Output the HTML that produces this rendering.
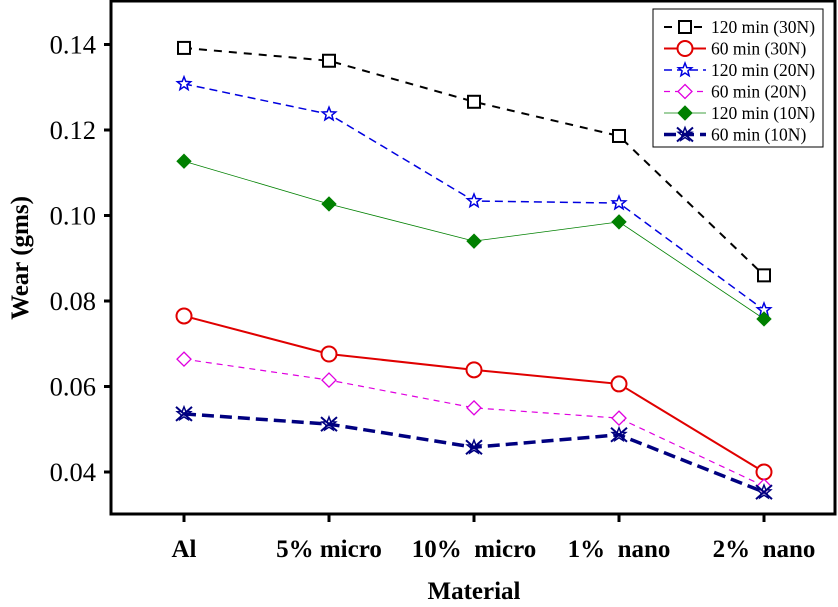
<!DOCTYPE html>
<html><head><meta charset="utf-8"><style>body{margin:0;background:#fff}svg{display:block;font-family:"Liberation Serif",serif}</style></head>
<body>
<svg id="c" width="838" height="607" viewBox="0 0 838 607"></svg>
<script>
const categories=["Al","5% micro","10%  micro","1%  nano","2%  nano"];
const yTicks=[0.04,0.06,0.08,0.10,0.12,0.14];
const yTickLabels=["0.04","0.06","0.08","0.10","0.12","0.14"];
const s120_30=[0.1392,0.1362,0.1266,0.1186,0.0860];
const s60_30=[0.0765,0.0676,0.0639,0.0606,0.0400];
const s120_20=[0.1308,0.1237,0.1034,0.1029,0.0779];
const s60_20=[0.0664,0.0615,0.0550,0.0526,0.0367];
const s120_10=[0.1127,0.1027,0.0940,0.0985,0.0758];
const s60_10=[0.0536,0.0512,0.0458,0.0487,0.0353];
const seriesNames=["120 min (30N)","60 min (30N)","120 min (20N)","60 min (20N)","120 min (10N)","60 min (10N)"];

const NS="http://www.w3.org/2000/svg",svg=document.getElementById('c');
const L=111,R=835,T=1,B=514;
const xs=i=>184+i*145;
const ys=v=>472-(v-0.04)/0.02*85.5;
function el(t,a,p){const e=document.createElementNS(NS,t);for(const k in a)e.setAttribute(k,a[k]);(p||svg).appendChild(e);return e;}
const frame=el('rect',{x:L,y:T,width:R-L,height:B-T,fill:'none',stroke:'#000','stroke-width':3});

yTicks.forEach((v,i)=>{
 const tk=el('line',{x1:L-7,x2:L,y1:ys(v),y2:ys(v),stroke:'#000','stroke-width':3});
 
 const t=el('text',{x:L-15,y:ys(v)+9,'text-anchor':'end','font-size':26.5});t.textContent=yTickLabels[i];
 
});
categories.forEach((c,i)=>{
 const tk=el('line',{x1:xs(i),x2:xs(i),y1:B,y2:B+8,stroke:'#000','stroke-width':3});
 
 const t=el('text',{x:xs(i),y:557,'text-anchor':'middle','font-size':25,'font-weight':'bold'});t.textContent=c;
 t.style.whiteSpace='pre';
 
});
const xt=el('text',{x:474,y:599,'text-anchor':'middle','font-size':25,'font-weight':'bold'});xt.textContent="Material";

const yt=el('text',{x:0,y:0,'text-anchor':'middle','font-size':25,'font-weight':'bold',transform:'translate(28,258) rotate(-90)'});yt.textContent="Wear (gms)";


function marker(type,x,y,color,g){
 if(type==='sq')return el('rect',{x:x-6,y:y-6,width:12,height:12,fill:'#fff',stroke:color,'stroke-width':2},g);
 if(type==='ci')return el('circle',{cx:x,cy:y,r:7.5,fill:'#fff',stroke:color,'stroke-width':2},g);
 if(type==='st'){let p=[];for(let k=0;k<10;k++){const r=k%2?3:7,a=-Math.PI/2+k*Math.PI/5;p.push((x+r*Math.cos(a)).toFixed(1)+','+(y+r*Math.sin(a)).toFixed(1));}return el('polygon',{points:p.join(' '),fill:'#fff',stroke:color,'stroke-width':1.5},g);}
 if(type==='di')return el('polygon',{points:`${x},${y-7} ${x+7},${y} ${x},${y+7} ${x-7},${y}`,fill:'#fff',stroke:color,'stroke-width':1.3},g);
 if(type==='fd')return el('polygon',{points:`${x},${y-7} ${x+7},${y} ${x},${y+7} ${x-7},${y}`,fill:color,stroke:color,'stroke-width':1},g);
 if(type==='xs'){const g2=el('g',{},g);el('path',{d:`M${x-8},${y+7} L${x+8},${y-7} M${x-8},${y-7} L${x+8},${y+7}`,stroke:color,'stroke-width':2,fill:'none'},g2);let p=[];for(let k=0;k<10;k++){const r=k%2?3:7,a=-Math.PI/2+k*Math.PI/5;p.push((x+r*Math.cos(a)).toFixed(1)+','+(y+r*Math.sin(a)).toFixed(1));}el('polygon',{points:p.join(' '),fill:'none',stroke:color,'stroke-width':1.5},g2);return g2;}
}
const styles=[
 {d:s120_30,c:'#000',w:2,da:'8,7',m:'sq'},
 {d:s60_30,c:'#e00000',w:2,da:'',m:'ci'},
 {d:s120_20,c:'#0000e0',w:1.5,da:'8,5',m:'st'},
 {d:s60_20,c:'#e000e0',w:1.2,da:'6,5',m:'di'},
 {d:s120_10,c:'#008000',w:0.8,da:'',m:'fd'},
 {d:s60_10,c:'#000080',w:3.5,da:'12,6',m:'xs'}
];
styles.forEach((s,si)=>{
 const g=el('g',{});
 const pl=el('polyline',{points:s.d.map((v,i)=>xs(i)+','+ys(v)).join(' '),fill:'none',stroke:s.c,'stroke-width':s.w,'stroke-dasharray':s.da},g);
 
 s.d.forEach((v,i)=>{const m=marker(s.m,xs(i),ys(v),s.c,g);});
});
const lg=el('g',{});
el('rect',{x:653,y:9,width:170,height:138,fill:'#fff',stroke:'#000','stroke-width':1},lg);
styles.forEach((s,i)=>{
 const y=27+i*21.5;
 const e=el('g',{},lg);
 el('line',{x1:664,x2:706,y1:y,y2:y,stroke:s.c,'stroke-width':s.w,'stroke-dasharray':s.da},e);
 marker(s.m,685,y,s.c,e);
 const t=el('text',{x:711,y:y+6,'font-size':17.5},e);t.textContent=seriesNames[i];
});
</script>
</body></html>
